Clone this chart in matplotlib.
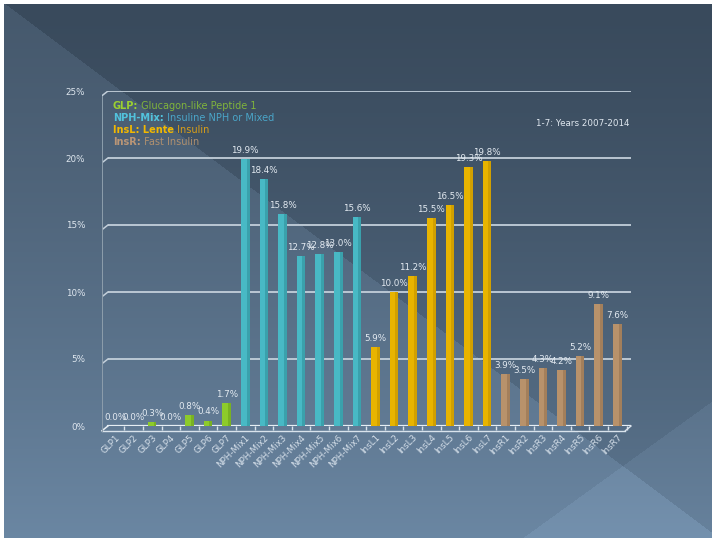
import numpy as np
import matplotlib
matplotlib.use("Agg")
import matplotlib.pyplot as plt

# ---------------- data ----------------
categories = (["GLP1", "GLP2", "GLP3", "GLP4", "GLP5", "GLP6", "GLP7"] +
              ["NPH-Mix1", "NPH-Mix2", "NPH-Mix3", "NPH-Mix4", "NPH-Mix5", "NPH-Mix6", "NPH-Mix7"] +
              ["InsL1", "InsL2", "InsL3", "InsL4", "InsL5", "InsL6", "InsL7"] +
              ["InsR1", "InsR2", "InsR3", "InsR4", "InsR5", "InsR6", "InsR7"])
glp_values = [0.0, 0.0, 0.3, 0.0, 0.8, 0.4, 1.7]
nph_values = [19.9, 18.4, 15.8, 12.7, 12.8, 13.0, 15.6]
insl_values = [5.9, 10.0, 11.2, 15.5, 16.5, 19.3, 19.8]
insr_values = [3.9, 3.5, 4.3, 4.2, 5.2, 9.1, 7.6]
y_ticks = [0, 5, 10, 15, 20, 25]
y_tick_labels = ["0%", "5%", "10%", "15%", "20%", "25%"]
legend_rows = [("GLP:", " Glucagon-like Peptide 1"),
               ("NPH-Mix:", " Insuline NPH or Mixed"),
               ("InsL: Lente", " Insulin"),
               ("InsR:", " Fast Insulin")]
note_text = "1-7: Years 2007-2014"

series = [glp_values, nph_values, insl_values, insr_values]
face_cols = ["#8dcb2b", "#48b9c5", "#e8b400", "#b8926b"]
side_cols = ["#6a9e1c", "#2f8f99", "#bf9000", "#93714f"]
leg_bold_cols = ["#9bd030", "#52c2dc", "#f2b800", "#bb9676"]
leg_cols = ["#80b43c", "#4aa5c8", "#d99e18", "#b0906f"]

W, H = 716, 542
fig = plt.figure(figsize=(W / 100, H / 100), dpi=100, facecolor="white")

# ---------------- background ----------------
yy, xx = np.mgrid[0:H, 0:W].astype(float)
t = (yy / (H - 1)) ** 1.3
c0 = np.array([0x39, 0x4a, 0x5c], float)
c1 = np.array([0x5e, 0x78, 0x92], float)
img = c0[None, None, :] + (c1 - c0)[None, None, :] * t[..., None]
lower_left = yy > 0.748 * xx
img[lower_left] += np.array([13, 15, 17], float)
bottom_right = yy > 541 - (xx - 518) * 0.722
img[bottom_right] += np.array([9, 10, 11], float)
img = np.clip(img, 0, 255) / 255.0
b = 4
img[:b, :, :] = 1
img[-b:, :, :] = 1
img[:, :b, :] = 1
img[:, -b:, :] = 1
bg = fig.add_axes([0, 0, 1, 1])
bg.imshow(img, aspect="auto", interpolation="bilinear")
bg.set_axis_off()
bg.set_zorder(0)

# ---------------- main axes ----------------
left_px, right_px = 102, 631
top_px, bot_px = 91, 426
ax = fig.add_axes([left_px / W, (H - bot_px) / H, (right_px - left_px) / W, (bot_px - top_px) / H])
ax.set_zorder(1)
ax.patch.set_alpha(0)

n = len(categories)
x = np.arange(n)
xmin, xmax = -0.70, 27.74
ax.set_xlim(xmin, xmax)
ax.set_ylim(0, 25)

grid_col = "#c3cfda"
for yv in y_ticks:
    if yv == 0:
        continue
    ax.plot([xmin + 0.32, xmax], [yv, yv], color=grid_col, lw=1.3, zorder=1, solid_capstyle="butt")
    ax.plot([xmin, xmin + 0.32], [yv - 0.35, yv], color=grid_col, lw=1.1, zorder=1)
# floor
ax.plot([xmin + 0.32, xmax], [0, 0], color="#e6eef4", lw=1.6, zorder=1)
ax.plot([xmin, xmin + 0.32], [-0.35, 0], color="#e6eef4", lw=1.1, zorder=1, clip_on=False)
ax.plot([xmin, xmax - 0.3], [-0.35, -0.35], color="#d9e3ec", lw=1.0, zorder=1, clip_on=False)
ax.plot([xmax - 0.3, xmax], [-0.35, 0], color="#d9e3ec", lw=1.0, zorder=1, clip_on=False)
# left vertical axis
ax.plot([xmin, xmin], [-0.35, 24.65], color="#8d9eac", lw=0.7, zorder=1, clip_on=False)

# bars
bw = 0.46
start = 0
for vals, fc, sc in zip(series, face_cols, side_cols):
    xs = x[start:start + len(vals)]
    ax.bar(xs, vals, width=bw, color=fc, zorder=3, linewidth=0)
    ax.bar(xs + bw * 0.33, vals, width=bw * 0.34, color=sc, zorder=3, linewidth=0, alpha=0.55)
    for xi, v in zip(xs, vals):
        ax.annotate(f"{v:.1f}%", (xi, v), xytext=(0, 3), textcoords="offset points",
                    ha="center", va="bottom", fontsize=6.3, color="#e3eaf1", zorder=4)
    start += len(vals)

# ticks
ax.set_xticks(x)
ax.set_xticklabels(categories, rotation=45, ha="right", va="top", rotation_mode="anchor",
                   fontsize=6.3, color="#d6e0ea")
ax.tick_params(axis="x", length=0, pad=5)
ax.set_yticks(y_ticks)
ax.set_yticklabels(y_tick_labels, fontsize=6.3, color="#dfe7ef")
ax.tick_params(axis="y", length=0, pad=12)
ax.set_xticks(x + 0.5, minor=True)
ax.tick_params(axis="x", which="minor", length=3, width=1, color="#d9e3ec", direction="out")
for s in ax.spines.values():
    s.set_visible(False)

# legend text block
renderer = fig.canvas.get_renderer()
ys_px = [106, 118, 130, 142]
for (bold, rest), bc, rc, ypx in zip(legend_rows, leg_bold_cols, leg_cols, ys_px):
    t1 = fig.text(113 / W, (H - ypx) / H, bold, fontsize=7, fontweight="bold", color=bc,
                  ha="left", va="center", zorder=5)
    ext = t1.get_window_extent(renderer)
    fig.text(ext.x1 / W, (H - ypx) / H, rest, fontsize=7, color=rc, ha="left", va="center", zorder=5)

fig.text(630 / W, (H - 123) / H, note_text, fontsize=6.3, color="#dfe7ef", ha="right", va="center", zorder=5)

fig.savefig("out.png", dpi=100, facecolor="white")
